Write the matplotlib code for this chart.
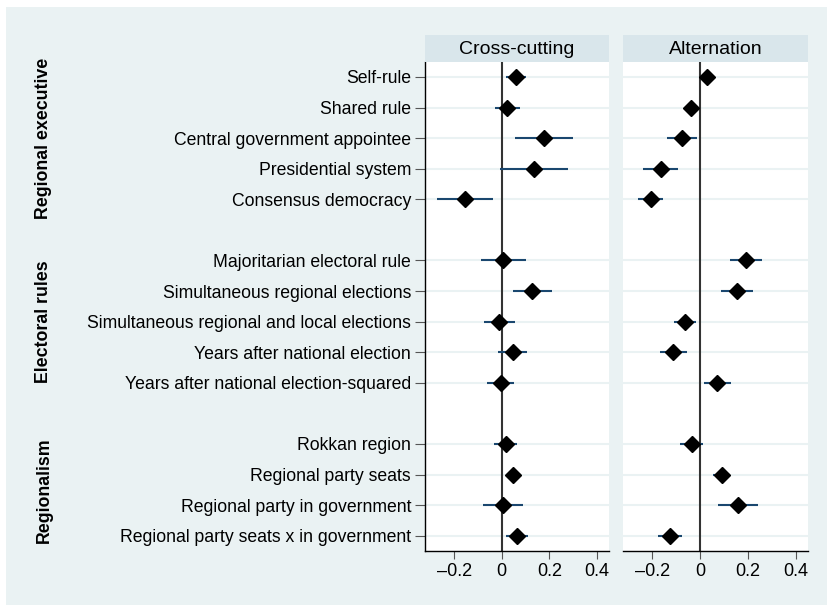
import matplotlib
matplotlib.use("Agg")
import matplotlib.pyplot as plt
import matplotlib.transforms as mtransforms
from matplotlib.patches import Rectangle

plt.rcParams['font.family'] = ['Liberation Sans', 'DejaVu Sans']

labels = [
    "Self-rule", "Shared rule", "Central government appointee",
    "Presidential system", "Consensus democracy",
    "Majoritarian electoral rule", "Simultaneous regional elections",
    "Simultaneous regional and local elections", "Years after national election",
    "Years after national election-squared",
    "Rokkan region", "Regional party seats", "Regional party in government",
    "Regional party seats x in government",
]
positions = [1, 2, 3, 4, 5, 7, 8, 9, 10, 11, 13, 14, 15, 16]

groups = ["Regional executive", "Electoral rules", "Regionalism"]
group_centers = [3, 9, 14.5]

panels = ["Cross-cutting", "Alternation"]

cc_est = [0.060, 0.024, 0.178, 0.137, -0.154,
          0.007, 0.129, -0.010, 0.046, -0.004,
          0.017, 0.049, 0.007, 0.063]
cc_lo = [0.018, -0.027, 0.057, -0.007, -0.272,
         -0.087, 0.046, -0.074, -0.016, -0.062,
         -0.034, 0.017, -0.077, 0.017]
cc_hi = [0.100, 0.075, 0.300, 0.278, -0.038,
         0.100, 0.210, 0.056, 0.105, 0.053,
         0.064, 0.081, 0.091, 0.109]

alt_est = [0.028, -0.040, -0.076, -0.164, -0.207,
           0.190, 0.154, -0.064, -0.112, 0.071,
           -0.035, 0.090, 0.158, -0.126]
alt_lo = [0.012, -0.054, -0.140, -0.238, -0.259,
          0.123, 0.088, -0.109, -0.168, 0.014,
          -0.084, 0.055, 0.074, -0.176]
alt_hi = [0.045, -0.026, -0.014, -0.091, -0.154,
          0.259, 0.221, -0.017, -0.056, 0.129,
          0.011, 0.126, 0.240, -0.076]

xticks = [-0.2, 0, 0.2, 0.4]
xticklabels = ["\u20130.2", "0", "0.2", "0.4"]

W, H = 827, 606
fig = plt.figure(figsize=(W / 100, H / 100), dpi=100)
fig.patch.set_facecolor("white")

BG = "#eaf2f3"
STRIP = "#d9e6eb"
NAVY = "#1a476f"

fig.add_artist(Rectangle((6 / W, 1 - 605 / H), (827 - 6) / W, (605 - 7) / H,
                         transform=fig.transFigure, facecolor=BG,
                         edgecolor="none", zorder=-10))

def fx(px):
    return px / W

def fy(py):
    return 1 - py / H

panel_x = [(425, 609), (623.3, 807.7)]
top, bottom = 61.7, 551
strip_top = 35

data = [(cc_est, cc_lo, cc_hi), (alt_est, alt_lo, alt_hi)]

for i, ((x0, x1), title, (est, lo, hi)) in enumerate(zip(panel_x, panels, data)):
    ax = fig.add_axes([fx(x0), fy(bottom), fx(x1 - x0), fy(top) - fy(bottom)])
    ax.set_facecolor("white")
    ax.set_xlim(-0.322, 0.450)
    ax.set_ylim(16.5, 0.5)
    for p in positions:
        ax.axhline(p, color=BG, lw=1.5, zorder=0)
    ax.axvline(0, color="#333333", lw=1.5, zorder=1)
    ax.hlines(positions, lo, hi, color=NAVY, lw=1.5, zorder=2)
    ax.plot(est, positions, linestyle="none", marker="D", color="black",
            markersize=8.5, zorder=3)
    ax.set_xticks(xticks)
    ax.set_xticklabels(xticklabels, fontsize=13)
    ax.tick_params(axis="x", length=6, width=0.8, color="#555555", pad=3)
    for s in ["top", "right"]:
        ax.spines[s].set_visible(False)
    ax.spines["bottom"].set_color("black")
    ax.spines["bottom"].set_linewidth(1.0)
    if i == 0:
        ax.set_yticks(positions)
        ax.set_yticklabels(labels, fontsize=12.7)
        ax.tick_params(axis="y", length=7, width=0.8, color="#555555", pad=3)
        ax.spines["left"].set_color("black")
        ax.spines["left"].set_linewidth(1.0)
    else:
        ax.set_yticks([])
        ax.spines["left"].set_visible(False)
    sax = fig.add_axes([fx(x0), fy(top), fx(x1 - x0), fy(strip_top) - fy(top)])
    sax.set_facecolor(STRIP)
    sax.set_xticks([])
    sax.set_yticks([])
    for s in sax.spines.values():
        s.set_visible(False)
    sax.text(0.5, 0.45, title, ha="center", va="center", fontsize=14,
             transform=sax.transAxes)
    if i == 0:
        trans = mtransforms.blended_transform_factory(fig.transFigure, ax.transData)
        for g, c in zip(groups, group_centers):
            ax.text(fx(44), c, g, rotation=90, ha="center", va="center",
                    fontsize=12.8, fontweight="bold", transform=trans)

fig.savefig("out.png", dpi=100, facecolor=fig.get_facecolor())
